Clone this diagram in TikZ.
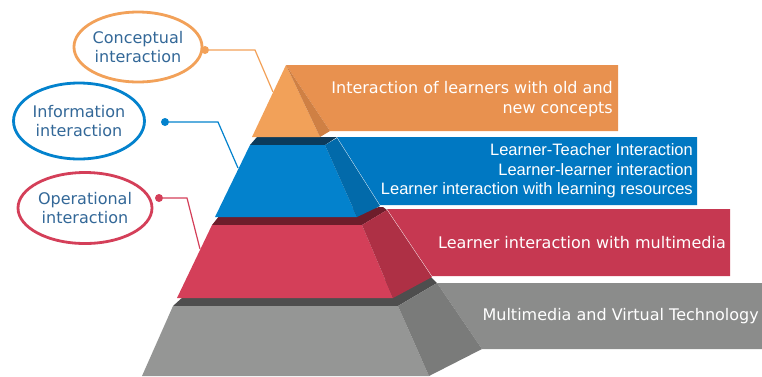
\documentclass[tikz,border=0pt]{standalone}
\usepackage{fontspec}
\setmainfont{DejaVu Sans}
\newfontfamily\arialfont{Liberation Sans}
\usetikzlibrary{positioning,shapes.geometric}
\definecolor{orFront}{HTML}{F2A159}
\definecolor{orBand}{HTML}{E8914F}
\definecolor{orSide}{HTML}{CF8044}
\definecolor{blFront}{HTML}{0382CD}
\definecolor{blBand}{HTML}{0078C2}
\definecolor{blSide}{HTML}{026AAA}
\definecolor{blTop}{HTML}{0B3B5C}
\definecolor{rdFront}{HTML}{D43F59}
\definecolor{rdBand}{HTML}{C63851}
\definecolor{rdSide}{HTML}{AE3045}
\definecolor{rdTop}{HTML}{6E1D2B}
\definecolor{gyFront}{HTML}{959695}
\definecolor{gyBand}{HTML}{8B8C8B}
\definecolor{gySide}{HTML}{7A7B7A}
\definecolor{gyTop}{HTML}{4E4E4E}
\definecolor{bubbleText}{HTML}{336898}

\begin{document}
\begin{tikzpicture}[x=1pt,y=-1pt,
  bubble/.style={ellipse,draw,line width=2.8pt,fill=white,inner sep=0pt,
    text=bubbleText,align=center,font=\fontsize{16}{19}\selectfont},
  dot/.style={circle,fill,inner sep=0pt,minimum size=8pt},
  lead/.style={line width=1.2pt},
  bandtext/.style={anchor=east,text=white,align=right,inner sep=0pt,
    font=\fontsize{16}{19.5}\selectfont}]
  \useasboundingbox (0,0) rectangle (762,376);

  % bottom tier
  \fill[gyBand] (437,283) -- (762,283) -- (762,349) -- (482,349) -- cycle;
  \fill[gyTop] (173,306) -- (184,296) -- (430,276) -- (437,283) -- (398,306) -- cycle;
  \fill[gyFront] (173,306) -- (398,306) -- (429,376) -- (142,376) -- cycle;
  \fill[gySide] (398,306) -- (437,283) -- (482,349) -- (429,376) -- cycle;

  % second tier
  \fill[rdBand] (387,209) -- (730,209) -- (730,276) -- (432,276) -- cycle;
  \fill[rdTop] (212,225) -- (220,215) -- (383,207) -- (387,210) -- (362,225) -- cycle;
  \fill[rdFront] (212,225) -- (362,225) -- (393,298) -- (177,298) -- cycle;
  \fill[rdSide] (362,225) -- (387,210) -- (432,277) -- (393,298) -- cycle;

  % third tier
  \fill[blBand] (337,137) -- (697,137) -- (697,205) -- (380,205) -- cycle;
  \fill[blTop] (250,145) -- (257,137) -- (337,137) -- (325,145) -- cycle;
  \fill[blFront] (250,145) -- (325,145) -- (357,217) -- (215,217) -- cycle;
  \fill[blSide] (325,145) -- (337,138) -- (380,206) -- (357,217) -- cycle;

  % top tier
  \fill[orBand] (286,65) -- (618,65) -- (618,131) -- (330,131) -- cycle;
  \fill[orFront] (286,65) -- (320,137) -- (252,137) -- cycle;
  \fill[orSide] (286,65) -- (330,131) -- (320,137) -- cycle;

  % band labels
  \node[bandtext] (conceptTxt) at (613,99) {Interaction of learners with old and\\new concepts};
  \node[bandtext,font=\arialfont\fontsize{16.5}{19.5}\selectfont] (infoTxt) at (693,171)
    {Learner-Teacher Interaction\\Learner-learner interaction\\Learner interaction with learning resources};
  \node[bandtext] (operTxt) at (726,243) {Learner interaction with multimedia};
  \node[bandtext] (techTxt) at (759,316) {Multimedia and Virtual Technology};

  % bubbles
  \node[bubble,draw=orFront,minimum width=125pt,minimum height=70pt] (concept) at (138,47) {Conceptual\\interaction};
  \node[bubble,draw=blFront,minimum width=129pt,minimum height=76pt] (inform) at (79,121) {Information\\interaction};
  \node[bubble,draw=rdFront,minimum width=134pt,minimum height=71pt] (operat) at (85,208) {Operational\\interaction};

  % leaders
  \node[dot,orFront] (conceptDot) at (205,50) {};
  \node[dot,blFront] (informDot) at (165,122) {};
  \node[dot,rdFront] (operatDot) at (159,198) {};
  \coordinate (conceptKnee) at (255,50);
  \coordinate (conceptTip) at (273,92);
  \coordinate (informKnee) at (218,122);
  \coordinate (informTip) at (238,168);
  \coordinate (operatKnee) at (187,198);
  \coordinate (operatTip) at (200,249);
  \draw[lead,orFront] (conceptDot) -- (conceptKnee) -- (conceptTip);
  \draw[lead,blFront] (informDot) -- (informKnee) -- (informTip);
  \draw[lead,rdFront] (operatDot) -- (operatKnee) -- (operatTip);
\end{tikzpicture}
\end{document}
